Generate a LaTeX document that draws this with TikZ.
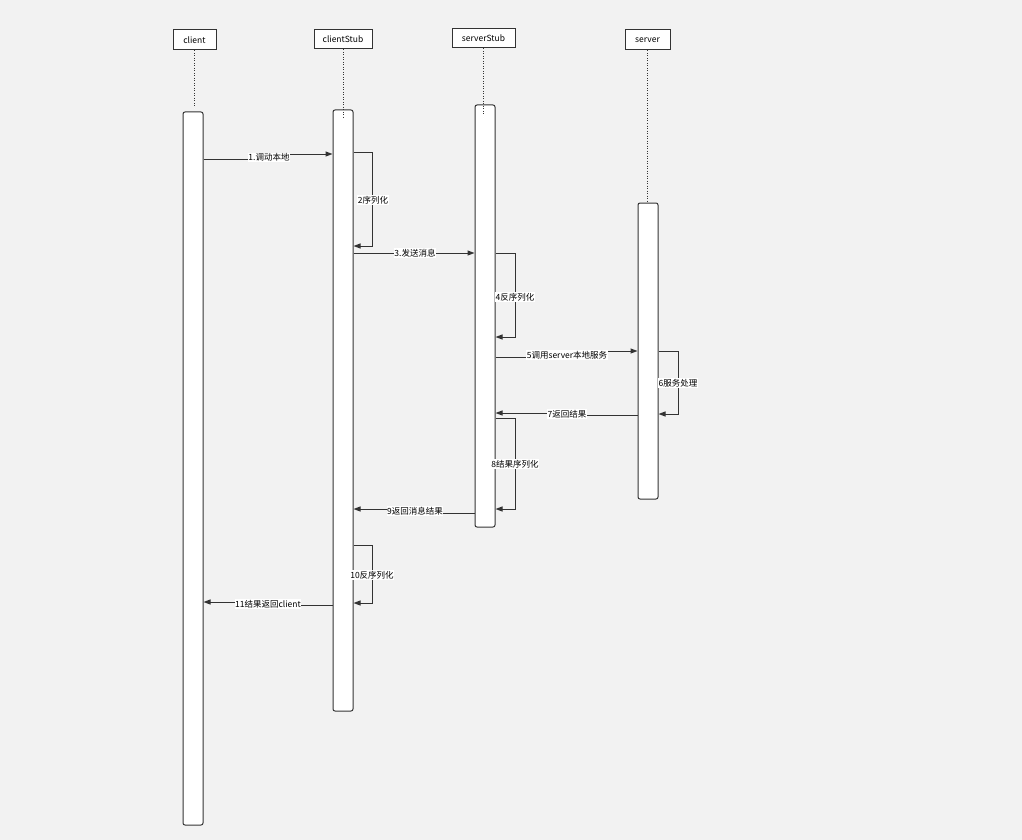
\documentclass[tikz,border=0pt]{standalone}
\usepackage{fontspec}
\setmainfont{Noto Sans CJK SC}
\usetikzlibrary{arrows.meta,calc}
\definecolor{bg}{HTML}{F2F2F2}
\definecolor{ln}{HTML}{333333}
\begin{document}
\begin{tikzpicture}[x=1pt,y=-1pt,
  head/.style={draw=ln, fill=white, line width=1pt, inner sep=0pt, font=\fontsize{8.5}{10}\selectfont},
  bar/.style={draw=ln, fill=white, line width=1pt, rounded corners=2pt, minimum width=20pt, inner sep=0pt},
  life/.style={draw=ln, line width=1pt, dash pattern=on 1pt off 1.5pt},
  msg/.style={draw=ln, line width=1pt, -{Triangle[length=7pt,width=5pt]}},
  lbl/.style={fill=white, inner sep=0.6pt, font=\fontsize{8.5}{9}\selectfont, text=black}
]
\useasboundingbox[fill=bg] (0,0) rectangle (1022,840);

% heads
\node[head, minimum width=43pt, minimum height=20pt] (h1) at (194.5,40) {client};
\node[head, minimum width=58pt, minimum height=19pt] (h2) at (343,39.5) {clientStub};
\node[head, minimum width=63pt, minimum height=19pt] (h3) at (483.5,38.5) {serverStub};
\node[head, minimum width=45pt, minimum height=20pt] (h4) at (647.5,40) {server};

% activation bars
\node[bar, minimum height=713pt] (b1) at (193,468.5) {};
\node[bar, minimum height=601pt] (b2) at (343,410.5) {};
\node[bar, minimum height=422pt] (b3) at (485,316) {};
\node[bar, minimum height=296pt] (b4) at (648,351) {};

% lifelines
\draw[life] (h1.south) -- ($(h1.south |- b1.north)+(0,-4)$);
\draw[life] (h2.south) -- ($(h2.south |- b2.north)+(0,9)$);
\draw[life] (h3.south) -- ($(h3.south |- b3.north)+(0,10)$);
\draw[life] (h4.south) -- (h4.south |- b4.north);

% 1
\draw[msg] (b1.east |- {(0,159)}) -- (268,159) -- (268,154) -- (b2.west |- {(0,154)});
\node[lbl] (l1) at (269,157.5) {1.调动本地};
% 2
\draw[msg] (b2.east |- {(0,152)}) -- (372,152) -- (372,246) -- (b2.east |- {(0,246)});
\node[lbl] (l2) at (373,200) {2序列化};
% 3
\draw[msg] (b2.east |- {(0,253)}) -- (b3.west |- {(0,253)});
\node[lbl] (l3) at (415,253) {3.发送消息};
% 4
\draw[msg] (b3.east |- {(0,253)}) -- (515,253) -- (515,337) -- (b3.east |- {(0,337)});
\node[lbl] (l4) at (515,297) {4反序列化};
% 5
\draw[msg] (b3.east |- {(0,357)}) -- (567,357) -- (567,351) -- (b4.west |- {(0,351)});
\node[lbl] (l5) at (567,355) {5调用server本地服务};
% 6
\draw[msg] (b4.east |- {(0,351)}) -- (678,351) -- (678,414) -- (b4.east |- {(0,414)});
\node[lbl] (l6) at (678,383) {6服务处理};
% 7
\draw[msg] (b4.west |- {(0,415)}) -- (567,415) -- (567,413) -- (b3.east |- {(0,413)});
\node[lbl] (l7) at (567,414) {7返回结果};
% 8
\draw[msg] (b3.east |- {(0,418)}) -- (515,418) -- (515,509) -- (b3.east |- {(0,509)});
\node[lbl] (l8) at (515,464) {8结果序列化};
% 9
\draw[msg] (b3.west |- {(0,513)}) -- (415,513) -- (415,509) -- (b2.east |- {(0,509)});
\node[lbl] (l9) at (415,511) {9返回消息结果};
% 10
\draw[msg] (b2.east |- {(0,545)}) -- (372,545) -- (372,603) -- (b2.east |- {(0,603)});
\node[lbl] (l10) at (372,575) {10反序列化};
% 11
\draw[msg] (b2.west |- {(0,605)}) -- (268,605) -- (268,602) -- (b1.east |- {(0,602)});
\node[lbl] (l11) at (268,604) {11结果返回client};
\end{tikzpicture}
\end{document}
